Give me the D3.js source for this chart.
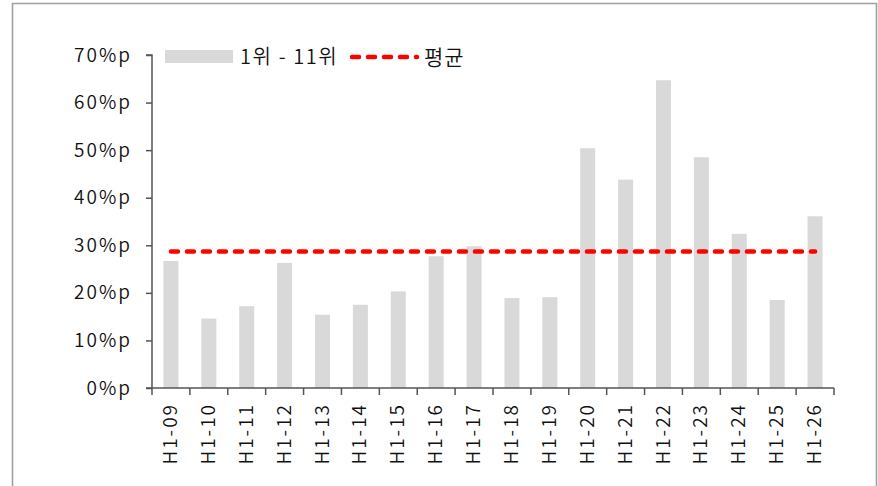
<!DOCTYPE html>
<html><head><meta charset="utf-8">
<script src="https://cdn.jsdelivr.net/npm/d3@7"></script>
<style>
body{margin:0;background:#fff;}
svg{display:block;}
text{font-family:"Noto Sans CJK KR","Noto Sans",sans-serif;fill:#111;font-weight:350;}
</style></head>
<body>
<svg id="c" width="878" height="486"></svg>
<script>
const categories = ["H1-09","H1-10","H1-11","H1-12","H1-13","H1-14","H1-15","H1-16","H1-17","H1-18","H1-19","H1-20","H1-21","H1-22","H1-23","H1-24","H1-25","H1-26"];
const rankValues = [26.7,14.6,17.2,26.3,15.4,17.5,20.3,27.7,29.8,18.9,19.1,50.4,43.8,64.7,48.5,32.4,18.5,36.1];
const averageValues = categories.map(() => 28.7);
const yTicks = [0,10,20,30,40,50,60,70];
const seriesNames = ["1위 - 11위","평균"];

(function(){
const svg = d3.select("#c");
const pL = 152, pR = 834, pT = 55, pB = 388;

// frame
svg.append("path").attr("d","M12.5,486 V3.5 H876.5 V486")
  .attr("fill","none").attr("stroke","#a0a0a0").attr("stroke-width",1.6);

const xb = d3.scaleBand().domain(categories).range([pL,pR]);
const y = d3.scaleLinear().domain([0,70]).range([pB,pT]);

// bars
svg.append("g").selectAll("rect").data(categories).join("rect")
  .attr("x",(d)=>xb(d)+xb.bandwidth()/2-7.5)
  .attr("width",15)
  .attr("y",(d,i)=>y(rankValues[i]))
  .attr("height",(d,i)=>pB-y(rankValues[i]))
  .attr("fill","#d9d9d9");

// y axis
const ya = svg.append("g").attr("transform",`translate(${pL},0)`)
  .call(d3.axisLeft(y).tickValues(yTicks).tickSize(6).tickPadding(14).tickFormat(d=>d+"%p"));
ya.select(".domain").attr("stroke","#555").attr("stroke-width",1.5).attr("d",`M-6,${pT}H0V${pB}`);
ya.selectAll(".tick line").attr("stroke","#555").attr("stroke-width",1.5);
ya.selectAll(".tick text").attr("font-size",19).attr("letter-spacing","2px")
  .style("font-family","'Noto Sans CJK KR','Noto Sans',sans-serif").attr("fill","#111");

// x axis
const xa = svg.append("g").attr("transform",`translate(0,${pB})`);
xa.append("path").attr("d",`M${pL-6},0H${pR}`).attr("stroke","#555").attr("stroke-width",1.5).attr("fill","none");
const bounds = categories.map(c=>xb(c)).concat([pR]);
xa.selectAll("line.tk").data(bounds).join("line").attr("class","tk")
  .attr("x1",d=>d).attr("x2",d=>d).attr("y1",0).attr("y2",7)
  .attr("stroke","#555").attr("stroke-width",1.5);
xa.selectAll("text.lb").data(categories).join("text").attr("class","lb")
  .attr("transform",d=>`translate(${xb(d)+xb.bandwidth()/2+6},15) rotate(-90)`)
  .attr("text-anchor","end").attr("font-size",19).attr("letter-spacing","2px")
  .text(d=>d);

// average line
const line = d3.line().x((d,i)=>xb(categories[i])+xb.bandwidth()/2).y(d=>y(d));
svg.append("path").datum(averageValues).attr("d",line)
  .attr("fill","none").attr("stroke","#ff0000").attr("stroke-width",4.5)
  .attr("stroke-dasharray","7,9").attr("stroke-linecap","round");

// legend
const lg = svg.append("g");
lg.append("rect").attr("x",165).attr("y",50).attr("width",68).attr("height",13).attr("fill","#d9d9d9");
lg.append("text").attr("x",240).attr("y",64).attr("font-size",20).attr("letter-spacing","1.6px").text(seriesNames[0]);
lg.append("line").attr("x1",352).attr("x2",417).attr("y1",57).attr("y2",57)
  .attr("stroke","#ff0000").attr("stroke-width",4.5).attr("stroke-dasharray","7,9").attr("stroke-linecap","round");
lg.append("text").attr("x",424).attr("y",65).attr("font-size",21).attr("letter-spacing","1px").text(seriesNames[1]);
})();
</script>
</body></html>
